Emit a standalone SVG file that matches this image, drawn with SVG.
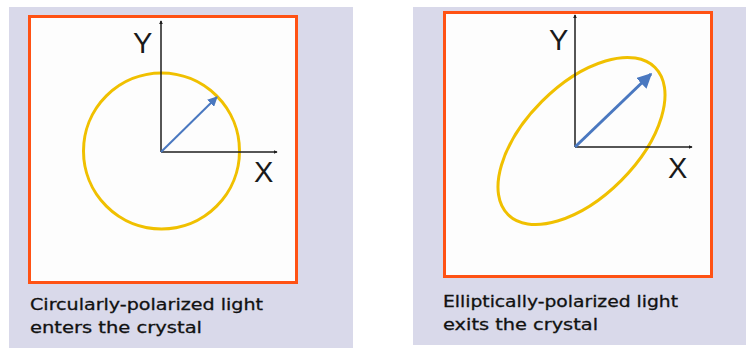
<svg xmlns="http://www.w3.org/2000/svg" width="746" height="348" viewBox="0 0 746 348">
<defs>
<style>
.bg{fill:#d9d9ea}
.frame{fill:#fdfdfd;stroke:#ff5214;stroke-width:3}
.axis{stroke:#1e1e1e;stroke-width:1.5;fill:none}
.ring{fill:none;stroke:#f0c000;stroke-width:3}
.vec{stroke:#4a78c0;fill:none}
.lbl{font-family:"Liberation Sans",Arial,sans-serif;font-size:29px;fill:#1a1a1a}
.cap{font-family:"DejaVu Sans","Liberation Sans",sans-serif;font-size:16px;fill:#111;stroke:#111;stroke-width:0.3}
</style>
<marker id="ax" viewBox="0 0 6 6" refX="5" refY="3" markerWidth="4" markerHeight="4" markerUnits="userSpaceOnUse" orient="auto">
<path d="M0,0 L6,3 L0,6 Z" fill="#1e1e1e"/>
</marker>
<marker id="bh" viewBox="0 0 10 10" refX="9" refY="5" markerWidth="5" markerHeight="5" orient="auto">
<path d="M0,0 L10,5 L0,10 Z" fill="#4a78c0"/>
</marker>
</defs>
<rect x="0" y="0" width="746" height="348" fill="#ffffff"/>
<g id="panel-left">
<rect class="bg" x="9" y="7" width="344" height="341"/>
<rect class="frame" x="29.5" y="16.5" width="267" height="266"/>
<circle class="ring" cx="161.5" cy="151" r="78"/>
<text class="lbl" x="133" y="53">Y</text>
<text class="lbl" x="254" y="182">X</text>
<text class="cap" x="30" y="310" textLength="233" lengthAdjust="spacingAndGlyphs">Circularly-polarized light</text>
<text class="cap" x="30" y="333" textLength="172" lengthAdjust="spacingAndGlyphs">enters the crystal</text>
</g>
<g id="panel-right">
<rect class="bg" x="413" y="7" width="333" height="338"/>
<rect class="frame" x="444.5" y="12.5" width="267" height="264"/>
<ellipse class="ring" cx="581.5" cy="141" rx="104" ry="56" transform="rotate(-45 581.5 141)"/>
<text class="lbl" x="549" y="50">Y</text>
<text class="lbl" x="668" y="178">X</text>
<text class="cap" x="443" y="307" textLength="235" lengthAdjust="spacingAndGlyphs">Elliptically-polarized light</text>
<text class="cap" x="443" y="330" textLength="155" lengthAdjust="spacingAndGlyphs">exits the crystal</text>
</g>
<g id="connectors">
<path class="axis" d="M161,152 V21" marker-end="url(#ax)"/>
<path class="axis" d="M161,152 H277" marker-end="url(#ax)"/>
<path class="vec" stroke-width="2" d="M161,152 L217,97" marker-end="url(#bh)"/>
<path class="axis" d="M575,147 V15" marker-end="url(#ax)"/>
<path class="axis" d="M575,147 H692" marker-end="url(#ax)"/>
<path class="vec" stroke-width="3" d="M575,147 L651,74" marker-end="url(#bh)"/>
</g>
</svg>
